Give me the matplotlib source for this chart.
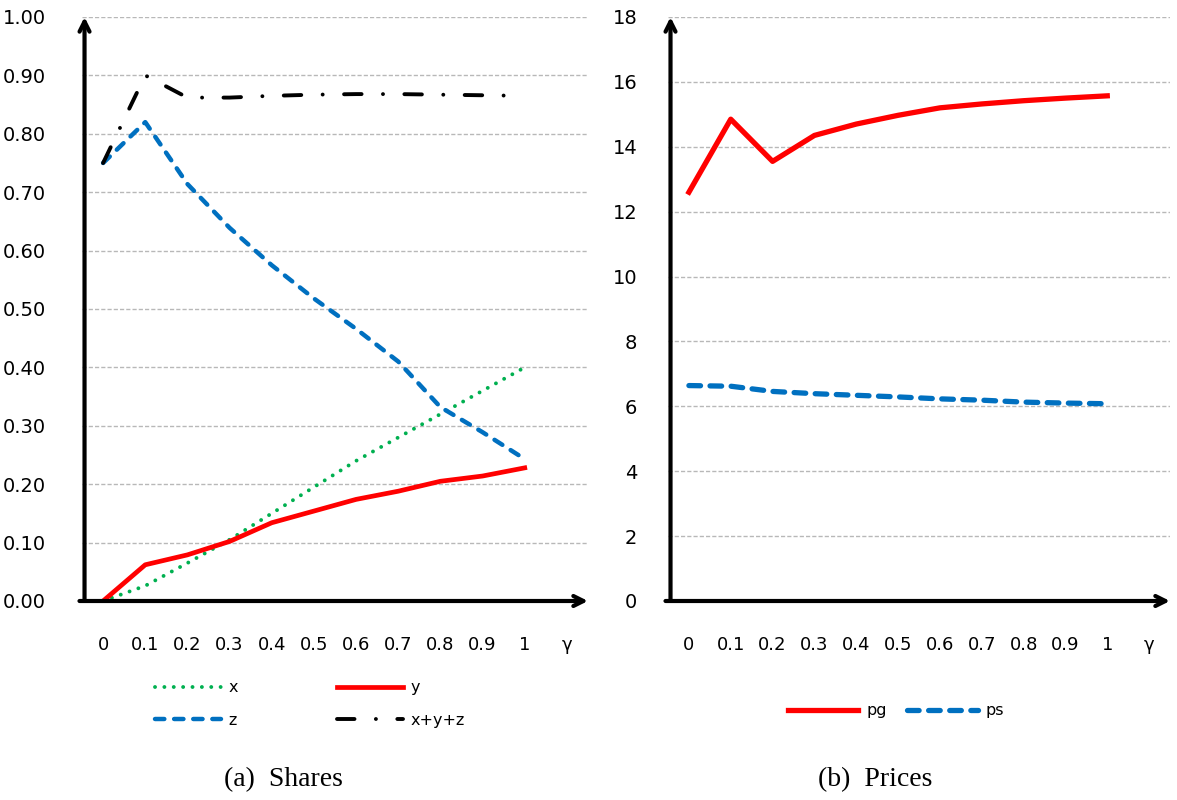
import numpy as np
import matplotlib.pyplot as plt

# category axis (Excel-style line chart, last category is the axis name)
gamma_labels = ['0', '0.1', '0.2', '0.3', '0.4', '0.5', '0.6', '0.7', '0.8', '0.9', '1', 'γ']
n_data = 11

# (a) shares
share_x = [0.0, 0.026, 0.065, 0.105, 0.15, 0.195, 0.24, 0.28, 0.32, 0.36, 0.40]
share_y = [0.0, 0.062, 0.079, 0.102, 0.134, 0.154, 0.174, 0.188, 0.205, 0.214, 0.228]
share_z = [0.75, 0.82, 0.714, 0.639, 0.575, 0.518, 0.466, 0.41, 0.332, 0.289, 0.243]
share_sum = [0.75, 0.90, 0.862, 0.862, 0.865, 0.867, 0.868, 0.868, 0.867, 0.866, 0.865]

# (b) prices
price_pg = [12.6, 14.85, 13.55, 14.35, 14.7, 14.97, 15.2, 15.32, 15.42, 15.5, 15.57]
price_ps = [6.64, 6.62, 6.46, 6.39, 6.34, 6.29, 6.23, 6.19, 6.13, 6.10, 6.08]

W, H = 1177, 800
fig = plt.figure(figsize=(W / 100, H / 100), dpi=100)

ax_a = fig.add_axes([82 / W, 1 - 601 / H, (588 - 82) / W, (601 - 17) / H])
ax_b = fig.add_axes([668 / W, 1 - 601 / H, (1170 - 668) / W, (601 - 17) / H])

pos = np.arange(n_data)


def style_axis(ax, ymax, ystep, fmt, ypad):
    ax.set_xlim(-0.5, len(gamma_labels) - 0.5)
    ax.set_ylim(0, ymax)
    ax.set_xticks(np.arange(len(gamma_labels)))
    ax.set_xticklabels(gamma_labels, fontsize=13)
    yt = np.arange(0, ymax + ystep / 2, ystep)
    ax.set_yticks(yt)
    ax.set_yticklabels([fmt.format(v) for v in yt], fontsize=14)
    ax.tick_params(axis='x', length=0, pad=25)
    ax.tick_params(axis='y', length=0, pad=ypad)
    for s in ax.spines.values():
        s.set_visible(False)
    ax.yaxis.grid(True, color='#b8b8b8', linestyle=(0, (3, 1.5)), linewidth=1)
    ax.set_axisbelow(True)
    # axis arrows
    ax.annotate('', xy=(1.0, 0), xytext=(-0.005, 0), xycoords='axes fraction',
                arrowprops=dict(arrowstyle='->', lw=3, color='black',
                                shrinkA=0, shrinkB=0, mutation_scale=18),
                annotation_clip=False)
    ax.annotate('', xy=(0.005, 1.0), xytext=(0.005, 0), xycoords='axes fraction',
                arrowprops=dict(arrowstyle='->', lw=3, color='black',
                                shrinkA=0, shrinkB=0, mutation_scale=18),
                annotation_clip=False)


style_axis(ax_a, 1.0, 0.1, '{:.2f}', 26)
style_axis(ax_b, 18, 2, '{:.0f}', 22)

# (a) lines
l_x, = ax_a.plot(pos, share_x, color='#00b050', lw=2.8, linestyle=(0, (0.01, 2.4)),
                 dash_capstyle='round', label='x')
l_y, = ax_a.plot(pos, share_y, color='#ff0000', lw=3.4, label='y')
l_z, = ax_a.plot(pos, share_z, color='#0070c0', lw=3.2, linestyle=(0, (2.1, 2.2)),
                 dash_capstyle='round', label='z')
l_s, = ax_a.plot(pos, share_sum, color='black', lw=2.8, linestyle=(0, (4.5, 5.5, 0.01, 5.5)),
                 dash_capstyle='round', label='x+y+z')

fig.legend([l_x, l_z, l_y, l_s], ['x', 'z', 'y', 'x+y+z'], ncol=2, frameon=False,
           loc='center', bbox_to_anchor=(310 / W, 1 - 704 / H), fontsize=11.5,
           handlelength=4.1, handletextpad=0.5, columnspacing=6.2, labelspacing=1.1)

# (b) lines
l_pg, = ax_b.plot(pos, price_pg, color='#ff0000', lw=3.8, label='pg')
l_ps, = ax_b.plot(pos, price_ps, color='#0070c0', lw=3.8, linestyle=(0, (2.2, 1.8)),
                  dash_capstyle='round', label='ps')

fig.legend([l_pg, l_ps], ['pg', 'ps'], ncol=2, frameon=False,
           loc='center', bbox_to_anchor=(896 / W, 1 - 711 / H), fontsize=11.5,
           handlelength=4.4, handletextpad=0.5, columnspacing=1.3)

fig.text(283 / W, 1 - 780 / H, '(a)  Shares', ha='center', va='center',
         fontsize=20, family='Liberation Serif')
fig.text(875 / W, 1 - 780 / H, '(b)  Prices', ha='center', va='center',
         fontsize=20, family='Liberation Serif')

fig.savefig('out.png', dpi=100)
